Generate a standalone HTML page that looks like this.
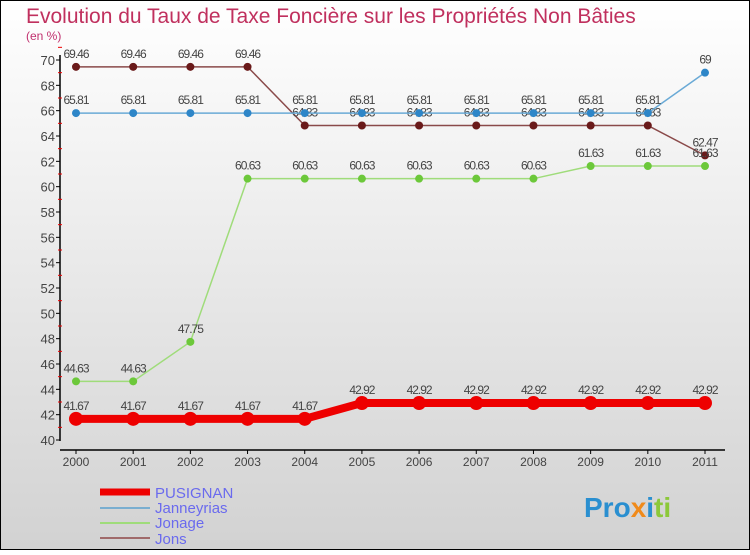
<!DOCTYPE html>
<html><head><meta charset="utf-8"><style>
body{margin:0;width:750px;height:550px;overflow:hidden;font-family:"Liberation Sans",sans-serif}
</style></head><body>
<svg width="750" height="550" id="c" xmlns="http://www.w3.org/2000/svg">
<defs><linearGradient id="bg" x1="0" y1="0" x2="0" y2="1"><stop offset="0" stop-color="#ffffff"/><stop offset="1" stop-color="#d2d2d2"/></linearGradient></defs>
<rect x="0.5" y="0.5" width="749" height="549" fill="url(#bg)" stroke="#000"/>
<text x="26" y="23" font-size="21" fill="#c0305e">Evolution du Taux de Taxe Foncière sur les Propriétés Non Bâties</text>
<text x="26" y="40" font-size="12" fill="#c0306e">(en %)</text>
<g id="axes"></g><g id="series"></g>
<g>
<line x1="100" y1="492" x2="150" y2="492" stroke="#e00" stroke-width="7"/>
<text x="155" y="498" font-size="15" fill="#6a6aee">PUSIGNAN</text>
<line x1="100" y1="508" x2="150" y2="508" stroke="#79aed0" stroke-width="2"/>
<text x="155" y="513" font-size="15" fill="#6a6aee">Janneyrias</text>
<line x1="100" y1="523" x2="150" y2="523" stroke="#9fdc7a" stroke-width="2"/>
<text x="155" y="528" font-size="15" fill="#6a6aee">Jonage</text>
<line x1="100" y1="538" x2="150" y2="538" stroke="#a06a6a" stroke-width="2"/>
<text x="155" y="544" font-size="15" fill="#6a6aee">Jons</text>
</g>
<text x="584" y="517" font-size="28" font-weight="bold"><tspan fill="#2a8fd0">Pro</tspan><tspan fill="#f08a1a">x</tspan><tspan fill="#2a8fd0">i</tspan><tspan fill="#8cc83a">ti</tspan></text>
</svg>
<script>
const years=[2000,2001,2002,2003,2004,2005,2006,2007,2008,2009,2010,2011];
const yTicks=[40,42,44,46,48,50,52,54,56,58,60,62,64,66,68,70];
const jons=[69.46,69.46,69.46,69.46,64.83,64.83,64.83,64.83,64.83,64.83,64.83,62.47];
const janneyrias=[65.81,65.81,65.81,65.81,65.81,65.81,65.81,65.81,65.81,65.81,65.81,69];
const jonage=[44.63,44.63,47.75,60.63,60.63,60.63,60.63,60.63,60.63,61.63,61.63,61.63];
const pusignan=[41.67,41.67,41.67,41.67,41.67,42.92,42.92,42.92,42.92,42.92,42.92,42.92];
const NS="http://www.w3.org/2000/svg";
const X=i=>76+i*(705-76)/(years.length-1);
const Y=v=>440-(v-40)*(380/30);
function mk(t,a,p){const e=document.createElementNS(NS,t);for(const k in a)e.setAttribute(k,a[k]);p.appendChild(e);return e;}
const ax=document.getElementById('axes');
let l=mk('line',{x1:60,y1:55,x2:60,y2:441,stroke:'#000','stroke-width':1.5},ax);


l=mk('line',{x1:60,y1:450,x2:725,y2:450,stroke:'#000','stroke-width':1.5},ax);


yTicks.forEach(v=>{const t=mk('line',{x1:56,y1:Y(v),x2:60,y2:Y(v),stroke:'#000'},ax);


const m=mk('line',{x1:58,y1:Y(v+1),x2:62,y2:Y(v+1),stroke:'#e00'},ax);


const tx=mk('text',{x:55,y:Y(v)+5,'font-size':13,fill:'#444','text-anchor':'end'},ax);tx.textContent=v;

});
years.forEach((y,i)=>{const t=mk('line',{x1:X(i),y1:450,x2:X(i),y2:454,stroke:'#000'},ax);


const tx=mk('text',{x:X(i),y:466,'font-size':12,fill:'#444','text-anchor':'middle'},ax);tx.textContent=y;

});
const sg=document.getElementById('series');
function series(name,vals,color,dot,w,r){
 const g=mk('g',{},sg);
 
 
 const p=mk('polyline',{points:vals.map((v,i)=>X(i)+','+Y(v)).join(' '),fill:'none',stroke:color,'stroke-width':w},g);
 
 
 vals.forEach((v,i)=>{const c=mk('circle',{cx:X(i),cy:Y(v),r:r,fill:dot},g);
 
 
 const t=mk('text',{x:X(i),y:Y(v)-9,'font-size':12,fill:'#444','text-anchor':'middle','letter-spacing':'-1'},g);t.textContent=String(v);
 
 });
}
series('jons',jons,'#8a4a4a','#6a1a1a',1.5,4);
series('janneyrias',janneyrias,'#6aaad6','#2e86c8',1.5,4);
series('jonage',jonage,'#9fdc7a','#6cc83a',1.5,4);
series('pusignan',pusignan,'#e00','#e00',8,7);
</script>
</body></html>
